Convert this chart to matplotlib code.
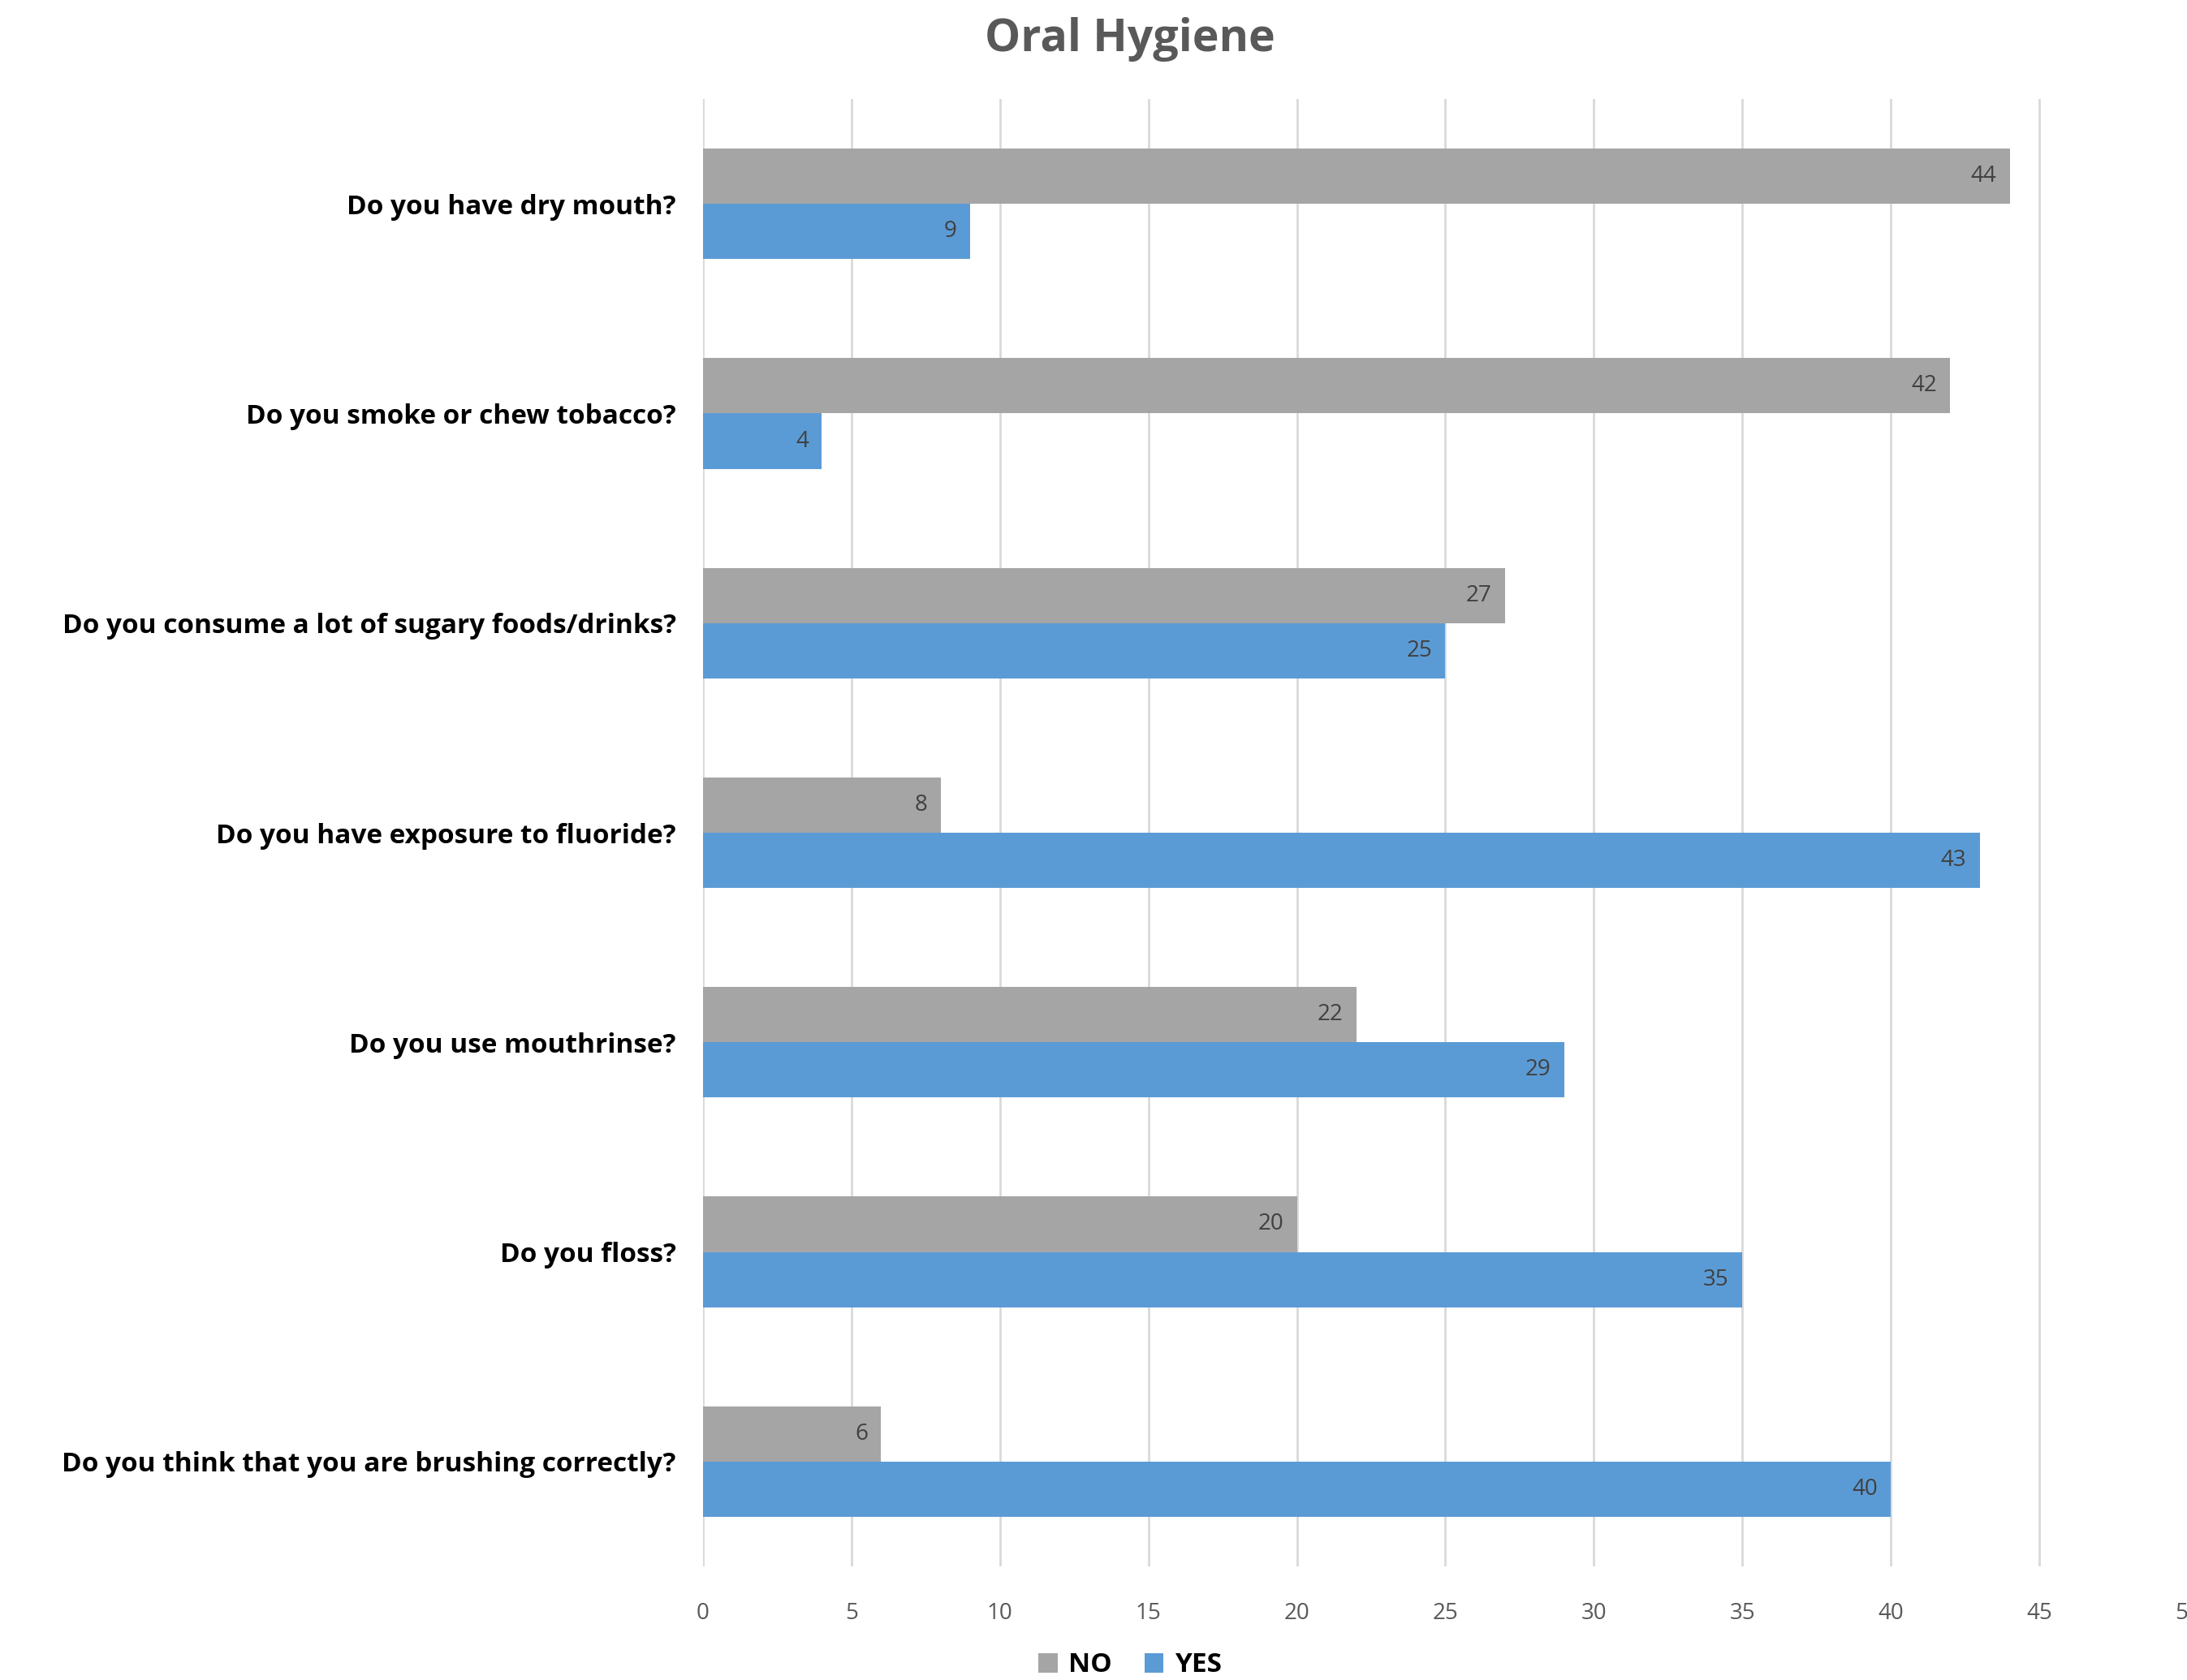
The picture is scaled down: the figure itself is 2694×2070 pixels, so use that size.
import numpy as np
import matplotlib.pyplot as plt

plt.rcParams['font.family'] = ['Open Sans', 'DejaVu Sans']

# Datos
questions = [
    "Do you have dry mouth?",
    "Do you smoke or chew tobacco?",
    "Do you consume a lot of sugary foods/drinks?",
    "Do you have exposure to fluoride?",
    "Do you use mouthrinse?",
    "Do you floss?",
    "Do you think that you are brushing correctly?",
]
no_vals = [44, 42, 27, 8, 22, 20, 6]
yes_vals = [9, 4, 25, 43, 29, 35, 40]
x_ticks = [0, 5, 10, 15, 20, 25, 30, 35, 40, 45, 50]

c_no = '#a5a5a5'
c_yes = '#5b9bd5'

fig = plt.figure(figsize=(26.94, 20.70), dpi=100)
ax = fig.add_axes([866 / 2694, 1 - 1930 / 2070, (2695 - 866) / 2694, (1930 - 122) / 2070])

y = np.arange(len(questions))
h = 0.264
ax.barh(y - h / 2, no_vals, height=h, color=c_no, label='NO', zorder=3)
ax.barh(y + h / 2, yes_vals, height=h, color=c_yes, label='YES', zorder=3)

# Etiquetas de datos
for i in range(len(questions)):
    ax.text(no_vals[i] - 0.45, y[i] - h / 2, str(no_vals[i]), ha='right', va='center',
            fontsize=20, color='#404040', zorder=4)
    ax.text(yes_vals[i] - 0.45, y[i] + h / 2, str(yes_vals[i]), ha='right', va='center',
            fontsize=20, color='#404040', zorder=4)

ax.set_ylim(len(questions) - 0.5, -0.5)
ax.set_xlim(0, 50)
ax.set_xticks(x_ticks)
ax.set_xticklabels([str(t) for t in x_ticks], fontsize=20, color='#595959')
ax.set_yticks(y)
ax.set_yticklabels(questions, fontsize=24, fontweight='bold', color='black')
ax.tick_params(axis='both', length=0)
ax.tick_params(axis='x', pad=32)
ax.tick_params(axis='y', pad=24)
ax.grid(axis='x', color='#d9d9d9', linewidth=2, zorder=0)
for s in ax.spines.values():
    s.set_visible(False)

fig.text(1392 / 2694, 1 - 48 / 2070, 'Oral Hygiene', ha='center', va='center',
         fontsize=40, fontweight='bold', color='#595959')

fig.legend(loc='center', bbox_to_anchor=(1392 / 2694, 1 - 2052 / 2070), ncol=2,
           frameon=False, prop={'size': 24, 'weight': 'bold'}, handlelength=0.7,
           handleheight=0.7, handletextpad=0.4, columnspacing=1.2)

plt.savefig('out.png', dpi=100)
